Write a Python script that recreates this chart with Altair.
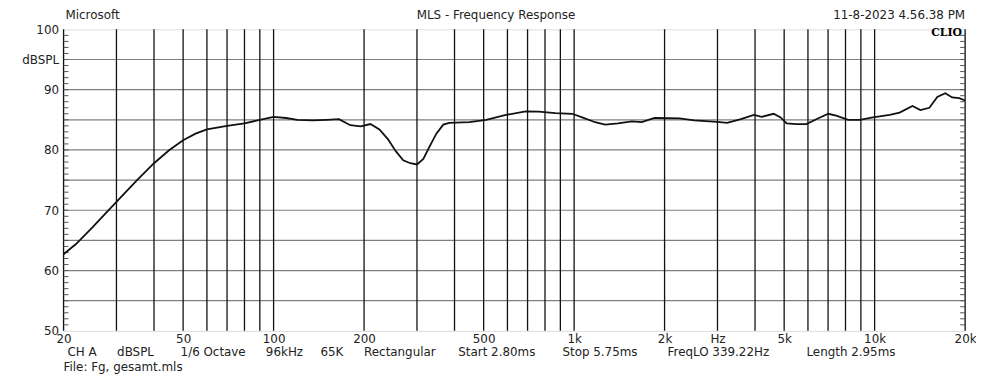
import altair as alt
import pandas as pd

# ---- measured frequency response (Hz, dBSPL) ----
freq = [20, 22, 25, 28, 30, 35, 40, 45, 50, 55, 60, 70, 80, 90, 100, 110, 120, 135, 150, 165,
        180, 195, 210, 225, 240, 255, 270, 285, 300, 315, 330, 348, 367, 384, 448, 510, 593,
        690, 762, 867, 986, 1064, 1175, 1268, 1400, 1556, 1679, 1853, 2242, 2512, 2993, 3229,
        3590, 3964, 4210, 4612, 4866, 5094, 5496, 5929, 6396, 7008, 7449, 8163, 8935, 9864,
        11224, 12107, 13366, 14198, 15213, 16166, 17185, 18120, 19104, 20000]
spl = [62.7, 64.4, 67.2, 69.8, 71.4, 74.9, 77.8, 80.0, 81.6, 82.7, 83.4, 84.0, 84.4, 85.0, 85.5,
       85.3, 85.0, 84.9, 85.0, 85.1, 84.1, 83.9, 84.3, 83.4, 81.8, 79.8, 78.3, 77.8, 77.6, 78.5,
       80.5, 82.7, 84.2, 84.5, 84.6, 85.0, 85.8, 86.4, 86.35, 86.1, 86.0, 85.4, 84.6, 84.2, 84.4,
       84.75, 84.6, 85.3, 85.25, 84.9, 84.65, 84.5, 85.1, 85.8, 85.5, 86.0, 85.4, 84.4, 84.3,
       84.3, 85.1, 86.0, 85.7, 85.0, 85.0, 85.4, 85.8, 86.2, 87.3, 86.6, 87.0, 88.8, 89.4, 88.7,
       88.6, 88.2]

# ---- axes ----
grid_freqs = [20, 30, 40, 50, 60, 70, 80, 90, 100, 200, 300, 400, 500, 600, 700, 800, 900,
              1000, 2000, 3000, 4000, 5000, 6000, 7000, 8000, 9000, 10000, 20000]
x_label_values = [20, 50, 100, 200, 500, 1000, 2000, 3000, 5000, 10000, 20000]
x_label_texts = ["20", "50", "100", "200", "500", "1k", "2k", "Hz", "5k", "10k", "20k"]
y_grid = [55, 60, 65, 70, 75, 80, 85, 90, 95]
y_label_values = [50, 60, 70, 80, 90, 95, 100]
y_label_texts = ["50", "60", "70", "80", "90", "dBSPL", "100"]
y_minor = [v for v in range(51, 100)]

# ---- texts ----
header_left = "Microsoft"
header_title = "MLS - Frequency Response"
header_right = "11-8-2023 4.56.38 PM"
brand = "CLIO"
info_items = ["CH A", "dBSPL", "1/6 Octave", "96kHz", "65K", "Rectangular",
              "Start 2.80ms", "Stop 5.75ms", "FreqLO 339.22Hz", "Length 2.95ms"]
info_x = [4, 54, 118, 204, 259, 303, 398, 503, 609, 749]
file_line = "File: Fg, gesamt.mls"

W, H = 909, 304
FONT = "DejaVu Sans"


def label_expr(values, texts):
    expr = "''"
    for v, t in reversed(list(zip(values, texts))):
        expr = f"datum.value == {v} ? '{t}' : ({expr})"
    return expr


xscale = alt.Scale(type="log", domain=[20, 20000], nice=False)
yscale = alt.Scale(domain=[50, 100], nice=False, zero=False)

x_axis = alt.Axis(values=x_label_values, labelExpr=label_expr(x_label_values, x_label_texts),
                  title=None, grid=False, ticks=False, domain=False, labelFont=FONT,
                  labelFontSize=12, labelColor="#222222", labelPadding=3,
                  labelOverlap=False, labelFlush=False)
y_axis = alt.Axis(values=y_label_values, labelExpr=label_expr(y_label_values, y_label_texts),
                  title=None, grid=False, ticks=False, domain=False, labelFont=FONT,
                  labelFontSize=12, labelColor="#222222", labelPadding=5,
                  labelOverlap=False, labelFlush=False)

df = pd.DataFrame({"f": freq, "db": spl})

hgrid = alt.Chart(pd.DataFrame({"g": y_grid})).mark_rule(
    color="#7f7f7f", strokeWidth=1.2, opacity=1).encode(
    y=alt.Y("g:Q", scale=yscale, axis=y_axis), x=alt.value(0), x2=alt.value(W))
vgrid = alt.Chart(pd.DataFrame({"gf": grid_freqs})).mark_rule(
    color="#111111", strokeWidth=1.3).encode(
    x=alt.X("gf:Q", scale=xscale, axis=x_axis), y=alt.value(0), y2=alt.value(H))

minor_df = pd.DataFrame({"m": y_minor})
minor_left = alt.Chart(minor_df).mark_rule(color="#555555", strokeWidth=1).encode(
    y=alt.Y("m:Q", scale=yscale, axis=y_axis), x=alt.value(0), x2=alt.value(5))
minor_right = alt.Chart(minor_df).mark_rule(color="#555555", strokeWidth=1).encode(
    y=alt.Y("m:Q", scale=yscale, axis=y_axis), x=alt.value(W - 5), x2=alt.value(W))

line = alt.Chart(df).mark_line(color="#111111", strokeWidth=1.8, clip=True).encode(
    x=alt.X("f:Q", scale=xscale, axis=x_axis),
    y=alt.Y("db:Q", scale=yscale, axis=y_axis),
)


def txt(text, x, y, align="left", size=12, font=FONT, weight="normal", color="#222222"):
    return alt.Chart(pd.DataFrame({"t": [text]})).mark_text(
        align=align, baseline="middle", font=font, fontSize=size, fontWeight=weight,
        color=color).encode(text="t:N", x=alt.value(x), y=alt.value(y))


texts = [
    txt(header_left, 2, -14),
    txt(header_title, 436, -14, align="center"),
    txt(header_right, W, -14, align="right"),
    txt(brand, W - 3, 4, align="right", size=11, font="DejaVu Serif", weight="bold",
        color="#000000"),
    txt(file_line, 0, 340),
]
for item, xx in zip(info_items, info_x):
    texts.append(txt(item, xx, 325))

chart = alt.layer(hgrid, vgrid, minor_left, minor_right, line, *texts).properties(
    width=W, height=H,
    autosize=alt.AutoSizeParams(type="none"),
    padding={"left": 56, "top": 20, "right": 11, "bottom": 46},
).configure_view(stroke="#000000", strokeWidth=2).configure(background="white")

chart.save("out.html", embed_options={"renderer": "svg", "actions": False})
